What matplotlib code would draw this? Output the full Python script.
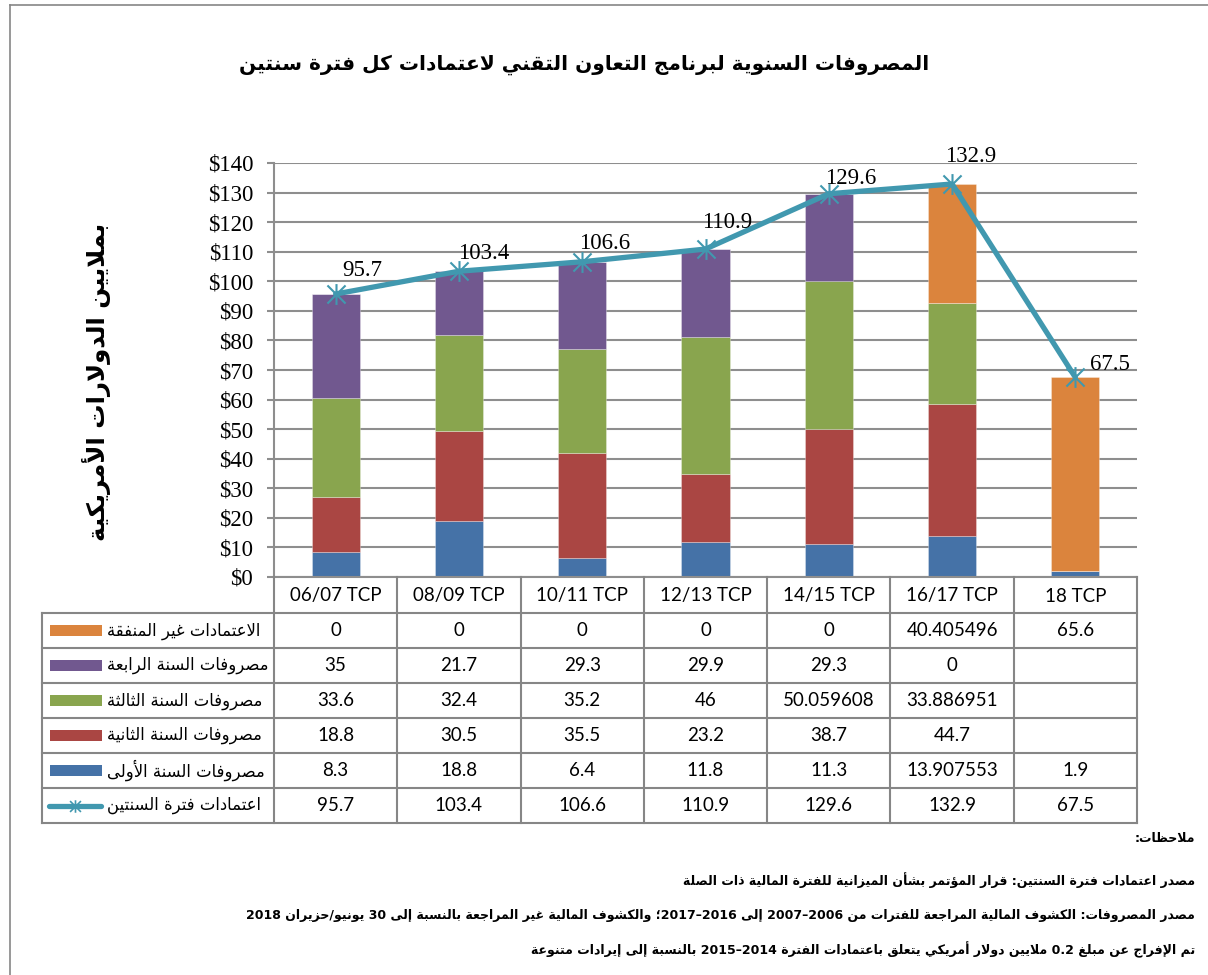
import re
import numpy as np
import matplotlib
matplotlib.use('Agg')
import matplotlib.pyplot as plt
from matplotlib.lines import Line2D
from matplotlib.patches import Rectangle
from matplotlib.path import Path
from matplotlib.transforms import blended_transform_factory
from matplotlib.ticker import FuncFormatter

# ---------------- data ----------------
categories = ['06/07 TCP', '08/09 TCP', '10/11 TCP', '12/13 TCP', '14/15 TCP', '16/17 TCP', '18 TCP']
year1 = [8.3, 18.8, 6.4, 11.8, 11.3, 13.907553, 1.9]
year2 = [18.8, 30.5, 35.5, 23.2, 38.7, 44.7, None]
year3 = [33.6, 32.4, 35.2, 46, 50.059608, 33.886951, None]
year4 = [35, 21.7, 29.3, 29.9, 29.3, 0, None]
unspent = [0, 0, 0, 0, 0, 40.405496, 65.6]
appropriation = [95.7, 103.4, 106.6, 110.9, 129.6, 132.9, 67.5]

name_year1 = 'مصروفات السنة الأولى'
name_year2 = 'مصروفات السنة الثانية'
name_year3 = 'مصروفات السنة الثالثة'
name_year4 = 'مصروفات السنة الرابعة'
name_unspent = 'الاعتمادات غير المنفقة'
name_approp = 'اعتمادات فترة السنتين'

title = 'المصروفات السنوية لبرنامج التعاون التقني لاعتمادات كل فترة سنتين'
ylabel = 'بملايين الدولارات الأمريكية'
notes = [
    'ملاحظات:',
    'مصدر اعتمادات فترة السنتين: قرار المؤتمر بشأن الميزانية للفترة المالية ذات الصلة',
    'مصدر المصروفات: الكشوف المالية المراجعة للفترات من 2006–2007 إلى 2016–2017؛ والكشوف المالية غير المراجعة بالنسبة إلى 30 يونيو/حزيران 2018',
    'تم الإفراج عن مبلغ 0.2 ملايين دولار أمريكي يتعلق باعتمادات الفترة 2014–2015 بالنسبة إلى إيرادات متنوعة',
]

# label placement (style, pixel offsets from each point)
label_offsets = [(27, 24), (25, 18), (22, 18), (22, 27), (22, 15), (19, 27), (35, 13)]

# ---------------- Arabic shaping / visual ordering ----------------
_DUAL = {'ئ': 0xFE89, 'ب': 0xFE8F, 'ت': 0xFE95, 'ث': 0xFE99, 'ج': 0xFE9D, 'ح': 0xFEA1,
         'خ': 0xFEA5, 'س': 0xFEB1, 'ش': 0xFEB5, 'ص': 0xFEB9, 'ض': 0xFEBD, 'ط': 0xFEC1,
         'ظ': 0xFEC5, 'ع': 0xFEC9, 'غ': 0xFECD, 'ف': 0xFED1, 'ق': 0xFED5, 'ك': 0xFED9,
         'ل': 0xFEDD, 'م': 0xFEE1, 'ن': 0xFEE5, 'ه': 0xFEE9, 'ي': 0xFEF1}
_RIGHT = {'آ': 0xFE81, 'أ': 0xFE83, 'ؤ': 0xFE85, 'إ': 0xFE87, 'ا': 0xFE8D, 'ة': 0xFE93,
          'د': 0xFEA9, 'ذ': 0xFEAB, 'ر': 0xFEAD, 'ز': 0xFEAF, 'و': 0xFEED, 'ى': 0xFEEF}
_NONE = {'ء': 0xFE80}
_LAMALEF = {'آ': 0xFEF5, 'أ': 0xFEF7, 'إ': 0xFEF9, 'ا': 0xFEFB}


def _shape(s):
    toks = []
    i = 0
    while i < len(s):
        c = s[i]
        if c == 'ل' and i + 1 < len(s) and s[i + 1] in _LAMALEF:
            toks.append(('LA', s[i + 1]))
            i += 2
        else:
            toks.append((None, c))
            i += 1

    def jp(t):
        return t[0] == 'LA' or t[1] in _DUAL or t[1] in _RIGHT

    def jn(t):
        return t[0] != 'LA' and t[1] in _DUAL

    out = []
    for i, t in enumerate(toks):
        k, c = t
        p = i > 0 and jn(toks[i - 1]) and jp(t)
        n = i + 1 < len(toks) and jn(t) and jp(toks[i + 1])
        if k == 'LA':
            out.append(chr(_LAMALEF[c] + (1 if p else 0)))
        elif c in _DUAL:
            out.append(chr(_DUAL[c] + (3 if (p and n) else 1 if p else 2 if n else 0)))
        elif c in _RIGHT:
            out.append(chr(_RIGHT[c] + (1 if p else 0)))
        elif c in _NONE:
            out.append(chr(_NONE[c]))
        else:
            out.append(c)
    return ''.join(out)


def ar(s):
    sh = _shape(s)
    toks = re.findall(r'[0-9]+(?:[.,][0-9]+)*|.', sh)
    return ''.join(reversed(toks))


# ---------------- style ----------------
W, H = 1208, 975
C_BLUE, C_RED, C_GREEN, C_PURPLE, C_ORANGE = '#4572A7', '#AA4643', '#89A54E', '#71588F', '#DB843D'
C_LINE = '#4198AF'
C_GRID = '#8E8E8E'
C_TABLE = '#868686'
AR_FONT = ['DejaVu Sans']
NUM_FONT = ['Lato', 'DejaVu Sans']
SERIF = ['Liberation Serif', 'DejaVu Serif']

fig = plt.figure(figsize=(W / 100, H / 100), dpi=100)
renderer = fig.canvas.get_renderer()


def fx(p):
    return p / W


def fy(p):
    return 1 - p / H


def fit(t, target, vertical=False):
    bb = t.get_window_extent(renderer)
    w = bb.height if vertical else bb.width
    t.set_fontsize(t.get_fontsize() * target / w)


# chart-area border
fig.add_artist(Line2D([fx(10), fx(10)], [fy(5), fy(975)], color=C_TABLE, lw=1.2, transform=fig.transFigure))
fig.add_artist(Line2D([fx(10), fx(1208)], [fy(5), fy(5)], color=C_TABLE, lw=1.2, transform=fig.transFigure))

ax = fig.add_axes([fx(274), fy(577), fx(1137) - fx(274), fy(163) - fy(577)])
x = np.arange(len(categories))

series = [(year1, C_BLUE), (year2, C_RED), (year3, C_GREEN), (year4, C_PURPLE), (unspent, C_ORANGE)]
bottom = np.zeros(len(categories))
for vals, col in series:
    v = np.nan_to_num(np.array([np.nan if a is None else a for a in vals], dtype=float))
    ax.bar(x, v, width=0.39, bottom=bottom, color=col, edgecolor=(1, 1, 1, 0.35), linewidth=0.6, zorder=2)
    bottom += v

star = Path([(-1, -1), (1, 1), (-1, 1), (1, -1), (0, -1.15), (0, 1.15)],
            [Path.MOVETO, Path.LINETO, Path.MOVETO, Path.LINETO, Path.MOVETO, Path.LINETO])
ax.plot(x, appropriation, color=C_LINE, lw=3.8, marker=star, markersize=15,
        markeredgewidth=1.5, markeredgecolor=C_LINE, markerfacecolor='none', zorder=5,
        solid_capstyle='round')
for xi, v, off in zip(x, appropriation, label_offsets):
    ax.annotate(f'{v:g}', (xi, v), xytext=off, textcoords='offset pixels',
                ha='center', va='center', fontsize=16.5, family=SERIF, zorder=6)

ax.set_xlim(-0.5, len(categories) - 0.5)
ax.set_ylim(0, 140)
ax.set_yticks(np.arange(0, 141, 10))
ax.yaxis.set_major_formatter(FuncFormatter(lambda v, p: f'${v:.0f}'))
ax.yaxis.grid(True, color=C_GRID, lw=1.5)
ax.set_axisbelow(True)
ax.tick_params(axis='y', direction='out', length=5, width=1.5, color=C_GRID, pad=10,
               labelsize=16.5)
for lab in ax.get_yticklabels():
    lab.set_family(SERIF)
ax.set_xticks([])
for s in ['top', 'right']:
    ax.spines[s].set_visible(False)
ax.spines['left'].set_color(C_GRID)
ax.spines['left'].set_linewidth(1.5)
ax.spines['bottom'].set_color(C_GRID)
ax.spines['bottom'].set_linewidth(1.5)
ax.patch.set_alpha(0)

# ---------------- data table ----------------
bt = blended_transform_factory(ax.transData, fig.transFigure)
top_hdr, top_rows = 577, 613
row_h = 35
rows = [(name_unspent, unspent, C_ORANGE, 'bar'),
        (name_year4, year4, C_PURPLE, 'bar'),
        (name_year3, year3, C_GREEN, 'bar'),
        (name_year2, year2, C_RED, 'bar'),
        (name_year1, year1, C_BLUE, 'bar'),
        (name_approp, appropriation, C_LINE, 'line')]
bottom_tab = top_rows + row_h * len(rows)

for i, c in enumerate(categories):
    ax.text(i, fy((top_hdr + top_rows) / 2 + 1), c, transform=bt, ha='center', va='center',
            fontsize=13.5, family=NUM_FONT)
for b in np.arange(len(categories) + 1) - 0.5:
    fig.add_artist(Line2D([b, b], [fy(top_hdr), fy(bottom_tab)], color=C_TABLE, lw=1.5,
                          transform=bt, clip_on=False))
fig.add_artist(Line2D([fx(42), fx(42)], [fy(top_rows), fy(bottom_tab)], color=C_TABLE, lw=1.5,
                      transform=fig.transFigure))
for r in range(len(rows) + 1):
    yy = fy(top_rows + r * row_h)
    fig.add_artist(Line2D([fx(42), fx(1137)], [yy, yy], color=C_TABLE, lw=1.5,
                          transform=fig.transFigure))

leg_texts = []
for r, (name, vals, col, kind) in enumerate(rows):
    yc = top_rows + r * row_h + row_h / 2
    if kind == 'bar':
        fig.add_artist(Rectangle((fx(50), fy(yc + 5.5)), fx(102) - fx(50), 11 / H,
                                 facecolor=col, edgecolor='none', transform=fig.transFigure))
    else:
        fig.add_artist(Line2D([fx(49), fx(101)], [fy(yc), fy(yc)], color=col, lw=3.8,
                              solid_capstyle='round', transform=fig.transFigure))
        fig.add_artist(Line2D([fx(75)], [fy(yc)], color=col, marker=star, markersize=9,
                              markeredgewidth=1.2, markerfacecolor='none', transform=fig.transFigure))
    t = fig.text(fx(107), fy(yc), ar(name), ha='left', va='center', fontsize=12, family=AR_FONT)
    leg_texts.append(t)
    for i, v in enumerate(vals):
        s = '' if v is None else f'{v:.10g}'
        ax.text(i, fy(yc), s, transform=bt, ha='center', va='center', fontsize=13.5,
                family=NUM_FONT)

fit(leg_texts[2], 156)
for t in leg_texts:
    t.set_fontsize(leg_texts[2].get_fontsize())

# ---------------- title / labels / notes ----------------
tt = fig.text(fx(584), fy(65), ar(title), ha='center', va='center', fontsize=20,
              weight='bold', family=AR_FONT)
fit(tt, 688)

yl = fig.text(fx(97), fy(382), ar(ylabel), ha='center', va='center', rotation=90,
              fontsize=14, weight='bold', family=AR_FONT)
fit(yl, 321, vertical=True)

note_y = [838, 880, 915, 950]
note_texts = []
for s, yy in zip(notes, note_y):
    note_texts.append(fig.text(fx(1195), fy(yy), ar(s), ha='right', va='center', fontsize=11,
                               weight='bold', family=AR_FONT))
fit(note_texts[2], 948)
for t in note_texts:
    t.set_fontsize(note_texts[2].get_fontsize())

fig.savefig('out.png', dpi=100)
